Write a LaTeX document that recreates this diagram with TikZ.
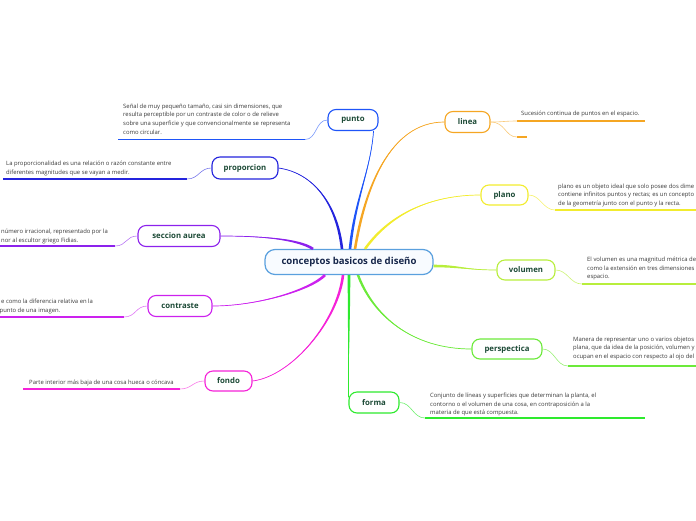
\documentclass[tikz,border=0pt]{standalone}
\usepackage{fontspec}
\setmainfont{Open Sans}
\usetikzlibrary{calc}
\definecolor{cpunto}{HTML}{1F55F8}
\definecolor{cprop}{HTML}{2424DD}
\definecolor{csecc}{HTML}{8C22EC}
\definecolor{ccontr}{HTML}{CC22EE}
\definecolor{cfondo}{HTML}{F522D8}
\definecolor{cforma}{HTML}{2EEA2E}
\definecolor{cpersp}{HTML}{6CEA3A}
\definecolor{cvol}{HTML}{B8EE3C}
\definecolor{cplano}{HTML}{F2EC2E}
\definecolor{clinea}{HTML}{F5A623}
\definecolor{ntext}{HTML}{1C4A36}
\definecolor{ctext}{HTML}{16264A}
\definecolor{cborder}{HTML}{5AA0DE}
\definecolor{cfill}{HTML}{F8FBFF}
\definecolor{btext}{HTML}{3A3A3A}
\newcommand\branch[6]{%
  \fill[#1] ($(#2)+(#6)$) .. controls +(#3) and +(#4) .. (#5) .. controls +(#4) and +(#3) .. ($(#2)-(#6)$) -- cycle;
  \draw[#1, line width=0.7pt] (#2) .. controls +(#3) and +(#4) .. (#5);
}
\begin{document}
\begin{tikzpicture}[x=1pt,y=-1pt,
  topic/.style={draw, line width=1.1pt, rounded corners=8pt, fill=white,
    font=\fontsize{7.8}{9}\selectfont\bfseries, text=ntext, minimum height=21pt, inner sep=0pt},
  central/.style={draw=cborder, line width=1.2pt, rounded corners=10pt, fill=cfill,
    font=\fontsize{9.6}{11}\selectfont\bfseries, text=ctext, minimum width=168pt, minimum height=25pt, inner sep=0pt},
  body/.style={anchor=north west, inner sep=0pt, align=left, text=btext,
    font=\fontsize{5.9}{8.8}\selectfont},
  uline/.style={line width=1.3pt},
  thin/.style={line width=0.6pt}
]
\clip (0,0) rectangle (696,520);

% central node
\node[central] (c) at (349,262) {conceptos basicos de diseño};

% topic nodes
\node[topic, draw=cpunto, minimum width=50pt] (punto) at (353,120) {punto};
\node[topic, draw=cprop, minimum width=66pt, minimum height=22pt] (prop) at (245,168) {proporcion};
\node[topic, draw=csecc, minimum width=82pt] (secc) at (179,236) {seccion aurea};
\node[topic, draw=ccontr, minimum width=64pt] (contr) at (180,306) {contraste};
\node[topic, draw=cfondo, minimum width=47pt, minimum height=20pt] (fondo) at (228.5,381) {fondo};
\node[topic, draw=cforma, minimum width=50pt] (forma) at (374,402.5) {forma};
\node[topic, draw=cpersp, minimum width=70pt, minimum height=20pt] (persp) at (507,349) {perspectica};
\node[topic, draw=cvol, minimum width=58pt, minimum height=20pt] (vol) at (526,270) {volumen};
\node[topic, draw=cplano, minimum width=47pt, minimum height=20pt] (plano) at (504.5,195) {plano};
\node[topic, draw=clinea, minimum width=45pt] (linea) at (467.5,122) {linea};

% branch start points on the central node
\coordinate (ssecc) at ($(c.north)+(-36,0)$);
\coordinate (sprop) at ($(c.north)+(-7,0)$);
\coordinate (spunto) at ($(c.north)+(1,0)$);
\coordinate (slinea) at ($(c.north)+(6,0)$);
\coordinate (splano) at ($(c.north)+(16,0)$);
\coordinate (svol) at ($(c.east)+(0,4)$);
\coordinate (scontr) at ($(c.south)+(-24,0)$);
\coordinate (sfondo) at ($(c.south)+(-6,0)$);
\coordinate (sforma) at ($(c.south)+(0,0)$);
\coordinate (spersp) at ($(c.south)+(9,0)$);
\coordinate (epunto) at ($(punto.south east)+(-5,0)$);
\coordinate (eforma) at ($(forma.north west)+(0,6)$);

% main branches (tapered)
\branch{csecc}{ssecc}{-15,-10}{40,0}{secc.east}{0.7,-1.1}
\branch{cprop}{sprop}{-5,-45}{35,5}{prop.east}{1.3,0}
\branch{cpunto}{spunto}{5,-50}{-3,40}{epunto}{1.3,0}
\branch{clinea}{slinea}{10,-60}{-55,0}{linea.west}{1.3,0}
\branch{cplano}{splano}{25,-35}{-50,0}{plano.west}{1.1,0.6}
\branch{cvol}{svol}{25,0}{-30,0}{vol.west}{0,1.3}
\branch{cpersp}{spersp}{15,40}{-60,0}{persp.west}{1.3,0}
\branch{cforma}{sforma}{0,40}{0,-40}{eforma}{1.3,0}
\branch{cfondo}{sfondo}{-5,45}{40,-5}{fondo.east}{1.3,0}
\branch{ccontr}{scontr}{-15,15}{45,0}{contr.east}{1,0.9}

% texts
\node[body] (tpunto) at (123,103.5) {Señal de muy pequeño tamaño, casi sin dimensiones, que\\resulta perceptible por un contraste de color o de relieve\\sobre una superficie y que convencionalmente se representa\\como circular.};
\node[body] (tprop) at (6,160.5) {La proporcionalidad es una relación o razón constante entre\\diferentes magnitudes que se vayan a medir.};
\node[body] (tsecc) at (1,228.5) {número irracional,  representado por la\\nor al escultor griego Fidias.};
\node[body] (tcontr) at (1,299) {e como la diferencia relativa en la\\\hspace*{-1.5pt}punto de una imagen.};
\node[body] (tfondo) at (29,379.5) {Parte interior más baja de una cosa hueca o cóncava};
\node[body] (tlinea) at (521,110.5) {Sucesión continua de puntos en el espacio.};
\node[body] (tplano) at (558,183.5) {plano es un objeto ideal que solo posee dos dime\\contiene infinitos puntos y rectas; es un concepto\\de la geometría junto con el punto y la recta.};
\node[body] (tvol) at (587,256.5) {El volumen es una magnitud métrica de\\como la extensión en tres dimensiones\\espacio.};
\node[body] (tpersp) at (573,336.5) {Manera de representar uno o varios objetos\\plana, que da idea de la posición, volumen y\\ocupan en el espacio con respecto al ojo del};
\node[body] (tforma) at (430,392.5) {Conjunto de líneas y superficies que determinan la planta, el\\contorno o el volumen de una cosa, en contraposición a la\\materia de que está compuesta.};

% underlines
\coordinate (pua) at (118,139.5); \coordinate (pub) at (305,139.5);
\coordinate (pra) at (3,179); \coordinate (prb) at (187,179);
\coordinate (sea) at (0,246); \coordinate (seb) at (115,246);
\coordinate (coa) at (0,317); \coordinate (cob) at (124,317);
\coordinate (foa) at (23,389); \coordinate (fob) at (180,389);
\coordinate (lia) at (517,121); \coordinate (lib) at (645,121);
\coordinate (lic) at (517,137); \coordinate (lid) at (527,137);
\coordinate (pla) at (555,210); \coordinate (plb) at (696,210);
\coordinate (voa) at (582,284); \coordinate (vob) at (696,284);
\coordinate (pea) at (568,366); \coordinate (peb) at (696,366);
\coordinate (fma) at (425,418); \coordinate (fmb) at (645,418);

\draw[uline, cpunto] (pua) -- (pub);
\draw[thin, cpunto!60] (pub) .. controls +(12,0) and +(-12,0) .. (punto.west);
\draw[uline, cprop] (pra) -- (prb);
\draw[thin, cprop!60] (prb) .. controls +(12,0) and +(-12,0) .. (prop.west);
\draw[uline, csecc] (sea) -- (seb);
\draw[thin, csecc!60] (seb) .. controls +(12,0) and +(-12,0) .. (secc.west);
\draw[uline, ccontr] (coa) -- (cob);
\draw[thin, ccontr!60] (cob) .. controls +(12,0) and +(-12,0) .. (contr.west);
\draw[uline, cfondo] (foa) -- (fob);
\draw[thin, cfondo!60] (fob) .. controls +(12,0) and +(-12,0) .. (fondo.west);
\draw[uline, clinea] (lia) -- (lib);
\draw[thin, clinea!60] (linea.east) .. controls +(12,0) and +(-12,0) .. (lia);
\draw[uline, clinea] (lic) -- (lid);
\draw[thin, clinea!60] (linea.east) .. controls +(15,0) and +(-12,0) .. (lic);
\draw[uline, cplano] (pla) -- (plb);
\draw[thin, cplano!70] (plano.east) .. controls +(12,0) and +(-12,0) .. (pla);
\draw[uline, cvol] (voa) -- (vob);
\draw[thin, cvol!70] (vol.east) .. controls +(12,0) and +(-12,0) .. (voa);
\draw[uline, cpersp] (pea) -- (peb);
\draw[thin, cpersp!70] (persp.east) .. controls +(12,0) and +(-12,0) .. (pea);
\draw[uline, cforma] (fma) -- (fmb);
\draw[thin, cforma!70] (forma.east) .. controls +(12,0) and +(-12,0) .. (fma);
\end{tikzpicture}
\end{document}
